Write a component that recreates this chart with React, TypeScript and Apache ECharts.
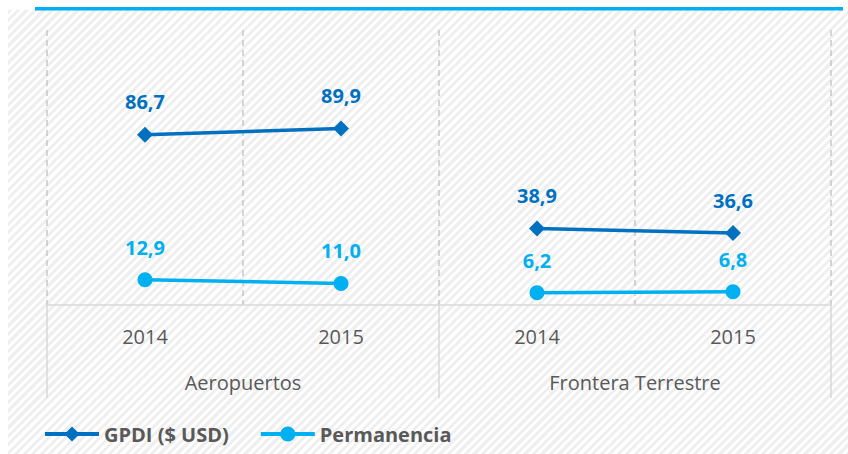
import React, { useEffect, useRef } from "react";
import * as echarts from "echarts";

const categories = ["2014", "2015", "2014", "2015"];
const groups = ["Aeropuertos", "Frontera Terrestre"];
const gpdiValues = [86.7, 89.9, 38.9, 36.6];
const permanenciaValues = [12.9, 11.0, 6.2, 6.8];
const seriesNames = ["GPDI ($ USD)", "Permanencia"];

const DARK = "#0070C0";
const LIGHT = "#00B0F0";
const FONT = "'Open Sans', 'Noto Sans', sans-serif";

function groupSlice(values: number[], g: number) {
  return values.map((v, i) => (Math.floor(i / 2) === g ? v : "-"));
}

function fmt(p: any) {
  return Number(p.value).toFixed(1).replace(".", ",");
}

export default function App() {
  const ref = useRef<HTMLDivElement>(null);
  useEffect(() => {
    if (!ref.current) return;
    const chart = echarts.init(ref.current, undefined, { renderer: "svg" });
    const makeSeries = (name: string, values: number[], color: string, symbol: string, size: number) =>
      groups.map((_, g) => ({
        name,
        type: "line",
        xAxisIndex: 0,
        yAxisIndex: 0,
        data: groupSlice(values, g),
        symbol,
        symbolSize: size,
        connectNulls: false,
        lineStyle: { color, width: 3.5 },
        itemStyle: { color },
        label: {
          show: true,
          position: "top",
          distance: 15,
          formatter: fmt,
          color,
          fontFamily: FONT,
          fontWeight: "bold",
          fontSize: 20,
        },
      }));
    chart.setOption({
      animation: false,
      backgroundColor: "transparent",
      textStyle: { fontFamily: FONT },
      grid: { left: 47, right: 17, top: 30, bottom: 149, containLabel: false },
      graphic: [
        {
          type: "rect",
          shape: { x: 35, y: 7, width: 808, height: 3.6 },
          style: { fill: LIGHT },
          silent: true,
        },
      ],
      legend: {
        data: seriesNames,
        left: 43,
        top: 424,
        padding: 0,
        itemWidth: 54,
        itemHeight: 19,
        itemGap: 30,
        lineStyle: { width: 4 },
        textStyle: { fontFamily: FONT, fontWeight: "bold", fontSize: 20, color: "#595959" },
      },
      xAxis: [
        {
          type: "category",
          data: categories,
          boundaryGap: true,
          position: "bottom",
          axisLine: { show: true, lineStyle: { color: "#d9d9d9", width: 1.5 } },
          axisTick: { show: false },
          axisLabel: { interval: 0, margin: 21, fontSize: 20, color: "#595959", fontFamily: FONT },
          splitLine: {
            show: true,
            interval: 0,
            lineStyle: { color: "#c8c8c8", type: [6, 4], width: 1.5 },
          },
        },
        {
          type: "category",
          data: groups,
          boundaryGap: true,
          position: "bottom",
          axisLine: { show: false },
          axisTick: { show: true, interval: 0, length: 93, lineStyle: { color: "#d9d9d9", width: 1.5 } },
          axisLabel: { interval: 0, margin: 67, fontSize: 20, color: "#595959", fontFamily: FONT },
          splitLine: { show: false },
        },
      ],
      yAxis: {
        type: "value",
        min: 0,
        max: 140,
        show: false,
        splitLine: { show: false },
      },
      series: [
        ...makeSeries(seriesNames[0], gpdiValues, DARK, "diamond", 16),
        ...makeSeries(seriesNames[1], permanenciaValues, LIGHT, "circle", 15),
      ],
    });
    return () => chart.dispose();
  }, []);
  return (
    <div style={{ position: "absolute", left: 0, top: 0, width: 848, height: 454, background: "#fff" }}>
      <div
        style={{
          position: "absolute",
          left: 8,
          top: 10,
          width: 840,
          height: 444,
          background:
            "repeating-linear-gradient(135deg, #efefef 0px, #efefef 3px, #ffffff 3px, #ffffff 6px)",
        }}
      />
      <div ref={ref} style={{ position: "absolute", left: 0, top: 0, width: 848, height: 454 }} />
    </div>
  );
}
